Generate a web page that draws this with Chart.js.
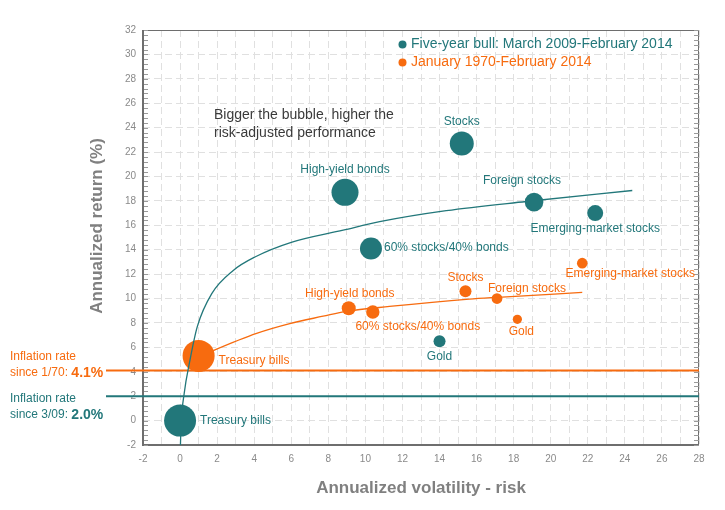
<!DOCTYPE html>
<html>
<head>
<meta charset="utf-8">
<script src="https://cdn.jsdelivr.net/npm/chart.js@4.4.1/dist/chart.umd.min.js"></script>
<style>
  html, body { margin: 0; padding: 0; background: #fff; }
  canvas { display: block; }
</style>
</head>
<body>
<canvas id="chart" width="725" height="510"></canvas>
<script>
// asset classes, same order for both periods
const assetNames = ['Treasury bills', 'High-yield bonds', 'Stocks', 'Foreign stocks',
  'Emerging-market stocks', '60% stocks/40% bonds', 'Gold'];

// five-year bull: March 2009-February 2014
const bullRisk = [0, 8.9, 15.2, 19.1, 22.4, 10.3, 14.0];
const bullReturn = [0, 18.7, 22.7, 17.9, 17.0, 14.1, 6.5];
const bullBubble = [16, 13.5, 12, 9.3, 8, 11, 6];

// January 1970-February 2014
const longRisk = [1.0, 9.1, 15.4, 17.1, 21.7, 10.4, 18.2];
const longReturn = [5.3, 9.2, 10.6, 10.0, 12.9, 8.9, 8.3];
const longBubble = [16, 7, 6, 5.4, 5.3, 6.7, 4.6];

// trend curves
const bullTrendRisk = [0.02, 0.05, 0.22, 0.54, 0.93, 1.71, 2.87, 4.04, 6.0, 8.8, 10.77, 14.36, 18.67, 24.4];
const bullTrendReturn = [-2, -0.5, 2.2, 5.0, 7.7, 10.4, 12.3, 13.4, 14.6, 15.6, 16.3, 17.2, 17.95, 18.85];
const longTrendRisk = [1.0, 1.88, 4.13, 5.92, 7.72, 8.97, 11.3, 15.6, 17.14, 21.7];
const longTrendReturn = [5.2, 5.8, 7.15, 7.95, 8.55, 8.95, 9.35, 9.95, 10.1, 10.5];

// inflation (long period, bull period)
const inflationRates = [4.1, 2.0];
const inflationSince = ['since 1/70: ', 'since 3/09: '];

const seriesNames = ['Five-year bull: March 2009-February 2014', 'January 1970-February 2014'];
const xRange = [-2, 28];
const yRange = [-2, 32];

const TEAL = '#22777a';
const ORANGE = '#f76b0f';
const FONT = "'Liberation Sans', Arial, sans-serif";

// label offsets from bubble centre: dx, dy, align
const bullLabelPos = [[20, 0, 'left'], [0, -23, 'center'], [0, -22, 'center'], [-12, -21, 'center'],
  [0, 16, 'center'], [13, -1, 'left'], [0, 15, 'center']];
const longLabelPos = [[20, 5, 'left'], [1, -15, 'center'], [0, -14, 'center'], [30, -10, 'center'],
  [48, 11, 'center'], [45, 15, 'center'], [4, 12, 'center']];

const pts = (xs, ys) => xs.map((x, i) => ({ x, y: ys[i] }));
const bubbles = (xs, ys, rs) => xs.map((x, i) => ({ x, y: ys[i], r: rs[i] }));

const decorations = {
  id: 'decorations',
  beforeDatasetsDraw(chart) {
    const { ctx, chartArea: a, scales: { y } } = chart;
    ctx.save();
    // frame
    ctx.strokeStyle = '#6e6e6e';
    ctx.lineWidth = 1;
    ctx.strokeRect(a.left + 0.5, a.top + 0.5, a.right - a.left - 1, a.bottom - a.top - 1);
    ctx.lineWidth = 2;
    ctx.beginPath();
    ctx.moveTo(a.left, a.top); ctx.lineTo(a.left, a.bottom); ctx.lineTo(a.right, a.bottom);
    ctx.stroke();
    // minor ticks on left and right edges
    ctx.strokeStyle = '#9a9a9a';
    ctx.lineWidth = 1;
    ctx.beginPath();
    for (let v = yRange[0]; v <= yRange[1] + 0.001; v += 0.4) {
      const py = Math.round(y.getPixelForValue(v)) + 0.5;
      ctx.moveTo(a.left + 1, py); ctx.lineTo(a.left + 5, py);
      ctx.moveTo(a.right - 5, py); ctx.lineTo(a.right, py);
    }
    ctx.stroke();
    // inflation lines
    [ORANGE, TEAL].forEach((c, i) => {
      const py = y.getPixelForValue(inflationRates[i]);
      ctx.strokeStyle = c;
      ctx.lineWidth = 2;
      ctx.beginPath();
      ctx.moveTo(106, py); ctx.lineTo(a.right, py);
      ctx.stroke();
    });
    ctx.restore();
  },
  afterDatasetsDraw(chart) {
    const { ctx, chartArea: a, scales: { x, y } } = chart;
    ctx.save();
    ctx.textBaseline = 'middle';
    ctx.font = '12px ' + FONT;
    // bubble labels
    const drawLabels = (xs, ys, pos, color) => {
      ctx.fillStyle = color;
      assetNames.forEach((name, i) => {
        const [dx, dy, al] = pos[i];
        ctx.textAlign = al;
        ctx.fillText(name, x.getPixelForValue(xs[i]) + dx, y.getPixelForValue(ys[i]) + dy);
      });
    };
    drawLabels(bullRisk, bullReturn, bullLabelPos, TEAL);
    drawLabels(longRisk, longReturn, longLabelPos, ORANGE);

    // legend
    ctx.textAlign = 'left';
    ctx.font = '14px ' + FONT;
    [[TEAL, 44], [ORANGE, 62]].forEach(([c, py], i) => {
      ctx.fillStyle = c;
      ctx.beginPath(); ctx.arc(402.5, py + 0.5, 4, 0, Math.PI * 2); ctx.fill();
      ctx.fillText(seriesNames[i], 411, py);
    });

    // note
    ctx.fillStyle = '#3a3a3a';
    ctx.fillText('Bigger the bubble, higher the', 214, 115);
    ctx.fillText('risk-adjusted performance', 214, 133);

    // inflation labels
    [[ORANGE, 357, 373], [TEAL, 399, 415]].forEach(([c, y1, y2], i) => {
      ctx.fillStyle = c;
      ctx.font = '12px ' + FONT;
      ctx.fillText('Inflation rate', 10, y1);
      ctx.fillText(inflationSince[i], 10, y2);
      const w = ctx.measureText(inflationSince[i]).width;
      ctx.font = 'bold 14px ' + FONT;
      ctx.fillText(inflationRates[i].toFixed(1) + '%', 10 + w, y2);
    });

    // axis titles
    ctx.fillStyle = '#808080';
    ctx.font = 'bold 17px ' + FONT;
    ctx.textAlign = 'center';
    ctx.fillText('Annualized volatility - risk', (a.left + a.right) / 2, 488);
    ctx.translate(97, 226);
    ctx.rotate(-Math.PI / 2);
    ctx.fillText('Annualized return (%)', 0, 0);
    ctx.restore();
  }
};

new Chart(document.getElementById('chart'), {
  type: 'bubble',
  data: {
    datasets: [
      { type: 'line', data: pts(bullTrendRisk, bullTrendReturn), borderColor: TEAL, borderWidth: 1.3,
        pointRadius: 0, cubicInterpolationMode: 'monotone', fill: false, order: 2 },
      { data: bubbles(bullRisk, bullReturn, bullBubble), backgroundColor: TEAL, borderWidth: 0, order: 1 },
      { type: 'line', data: pts(longTrendRisk, longTrendReturn), borderColor: ORANGE, borderWidth: 1.3,
        pointRadius: 0, cubicInterpolationMode: 'monotone', fill: false, order: 4 },
      { data: bubbles(longRisk, longReturn, longBubble), backgroundColor: ORANGE, borderWidth: 0, order: 3 }
    ]
  },
  options: {
    responsive: false,
    animation: false,
    devicePixelRatio: 1,
    layout: { padding: { top: 30, right: 26, left: 0, bottom: 0 } },
    plugins: { legend: { display: false }, tooltip: { enabled: false } },
    events: [],
    scales: {
      x: {
        type: 'linear', min: xRange[0], max: xRange[1],
        afterFit: s => { s.height = 65; },
        grid: { color: '#e0e0e0', drawTicks: false, lineWidth: 1 },
        border: { display: false, dash: [7, 4] },
        ticks: {
          stepSize: 1, autoSkip: false, maxRotation: 0, padding: 8,
          color: '#8a8a8a', font: { family: FONT, size: 10 },
          callback: v => (v % 2 === 0 ? v : '')
        }
      },
      y: {
        type: 'linear', min: yRange[0], max: yRange[1],
        afterFit: s => { s.width = 143; },
        grid: { color: '#e0e0e0', drawTicks: false, lineWidth: 1 },
        border: { display: false, dash: [7, 4] },
        ticks: { stepSize: 2, padding: 7, color: '#8a8a8a', font: { family: FONT, size: 10 } }
      }
    }
  },
  plugins: [decorations]
});
</script>
</body>
</html>
